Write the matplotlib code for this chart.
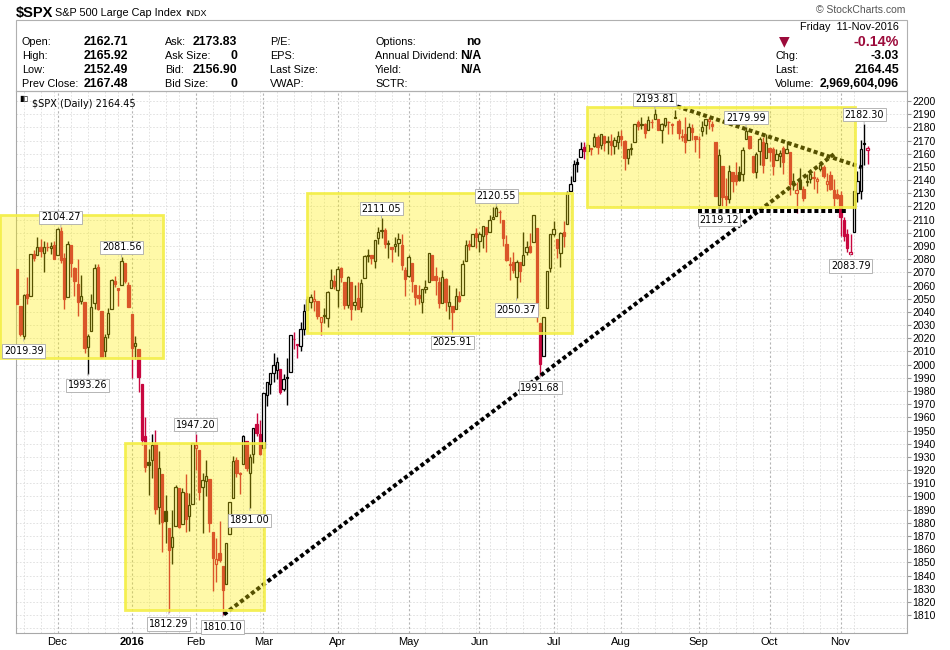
import numpy as np
import pandas as pd
import matplotlib
matplotlib.use("Agg")
from matplotlib import pyplot as plt
from matplotlib.patches import Rectangle

plt.rcParams['font.family'] = ['Liberation Sans', 'DejaVu Sans']

# $SPX daily candles (open, high, low, close), 12-Nov-2015 .. 11-Nov-2016
nov15 = [(2072.29, 2072.29, 2045.66, 2045.97), (2044.64, 2044.64, 2022.02, 2023.04),
         (2022.08, 2053.22, 2019.39, 2053.19), (2053.67, 2066.69, 2045.90, 2050.44),
         (2051.99, 2083.58, 2051.99, 2083.58), (2083.70, 2086.74, 2078.76, 2081.24),
         (2082.82, 2097.06, 2082.82, 2089.17), (2089.41, 2095.61, 2081.39, 2086.59),
         (2084.42, 2094.12, 2070.29, 2089.14), (2089.30, 2093.00, 2086.30, 2088.87),
         (2088.82, 2093.29, 2084.13, 2090.11), (2090.95, 2093.81, 2080.41, 2080.41)]
dec15 = [(2082.93, 2103.37, 2082.93, 2102.63), (2101.71, 2104.27, 2077.11, 2079.51),
         (2080.71, 2085.00, 2042.35, 2049.62), (2051.24, 2093.84, 2051.24, 2091.69),
         (2090.42, 2090.42, 2066.78, 2077.07), (2073.39, 2073.85, 2052.32, 2063.59),
         (2061.17, 2080.33, 2036.53, 2047.62), (2047.93, 2067.65, 2045.67, 2052.23),
         (2047.27, 2047.27, 2008.80, 2012.37), (2013.37, 2022.92, 1993.26, 2021.94),
         (2025.55, 2053.87, 2025.55, 2043.41), (2046.50, 2076.72, 2042.43, 2073.07),
         (2073.76, 2076.37, 2041.66, 2041.89), (2040.81, 2040.81, 2005.33, 2005.55),
         (2010.27, 2022.90, 2005.93, 2021.15), (2023.15, 2042.74, 2020.49, 2038.97),
         (2042.20, 2064.73, 2042.20, 2064.29), (2063.52, 2067.36, 2058.73, 2060.99),
         (2057.77, 2057.77, 2044.20, 2056.50), (2060.54, 2081.56, 2060.54, 2078.36),
         (2077.34, 2077.34, 2061.97, 2063.36), (2060.59, 2062.54, 2043.62, 2043.94)]
jan16 = [(2038.20, 2038.20, 1989.68, 2012.66), (2013.78, 2021.94, 2004.17, 2016.71),
         (2011.71, 2011.71, 1979.05, 1990.26), (1985.32, 1985.32, 1938.83, 1943.09),
         (1945.97, 1960.40, 1918.46, 1922.03), (1926.12, 1935.65, 1901.10, 1923.67),
         (1927.83, 1947.38, 1914.35, 1938.68), (1940.34, 1950.33, 1886.41, 1890.28),
         (1891.68, 1934.47, 1878.93, 1921.84), (1916.68, 1916.68, 1857.83, 1880.33),
         (1888.66, 1901.44, 1864.60, 1881.33), (1876.18, 1876.18, 1812.29, 1859.33),
         (1861.46, 1889.85, 1848.98, 1868.99), (1877.40, 1908.85, 1877.40, 1906.90),
         (1906.28, 1906.28, 1875.97, 1877.08), (1878.79, 1906.73, 1878.79, 1903.63),
         (1902.52, 1916.99, 1872.70, 1882.95), (1885.22, 1902.96, 1873.65, 1893.36),
         (1894.00, 1940.24, 1894.00, 1940.24)]
feb16 = [(1936.94, 1947.20, 1920.03, 1939.38), (1935.26, 1935.26, 1897.29, 1903.03),
         (1907.07, 1918.01, 1872.23, 1912.53), (1911.67, 1927.35, 1900.52, 1915.45),
         (1913.07, 1913.07, 1872.65, 1880.05), (1873.25, 1873.25, 1828.46, 1853.44),
         (1848.46, 1868.25, 1834.94, 1852.21), (1857.10, 1881.60, 1850.32, 1851.86),
         (1847.00, 1847.00, 1810.10, 1829.08), (1833.40, 1864.78, 1833.40, 1864.78),
         (1871.44, 1895.77, 1871.44, 1895.58), (1898.80, 1930.68, 1898.80, 1926.82),
         (1927.57, 1930.00, 1915.09, 1917.83), (1916.74, 1918.78, 1902.17, 1917.78),
         (1924.44, 1946.70, 1924.44, 1945.50), (1942.38, 1942.38, 1919.44, 1921.27),
         (1917.56, 1932.08, 1891.00, 1929.80), (1931.87, 1951.83, 1925.41, 1951.70),
         (1954.95, 1962.96, 1945.78, 1948.05), (1947.13, 1958.27, 1931.81, 1932.23)]
mar16 = [(1937.09, 1978.35, 1937.09, 1978.35), (1976.60, 1986.51, 1968.80, 1986.45),
         (1985.60, 1993.69, 1977.37, 1993.40), (1994.01, 2009.13, 1986.77, 1999.99),
         (1996.11, 2006.12, 1989.38, 2001.76), (1996.88, 1996.88, 1977.43, 1979.26),
         (1981.44, 1992.69, 1979.84, 1989.26), (1990.97, 2005.08, 1969.25, 1989.57),
         (1994.71, 2022.37, 1994.71, 2022.19), (2019.27, 2024.57, 2012.05, 2019.64),
         (2015.27, 2015.94, 2005.23, 2015.93), (2014.24, 2032.02, 2010.04, 2027.22),
         (2026.90, 2046.24, 2022.16, 2040.59), (2041.16, 2052.36, 2041.16, 2049.58),
         (2047.88, 2053.91, 2043.14, 2051.60), (2048.64, 2056.60, 2040.57, 2049.80),
         (2048.55, 2048.55, 2034.86, 2036.71), (2032.48, 2036.04, 2022.49, 2035.94),
         (2037.89, 2042.67, 2031.96, 2037.05), (2035.75, 2055.91, 2028.31, 2055.01),
         (2058.27, 2072.21, 2058.27, 2063.95), (2063.77, 2067.92, 2057.46, 2059.74)]
apr16 = [(2056.62, 2075.07, 2043.98, 2072.78), (2073.19, 2074.02, 2062.57, 2066.13),
         (2062.50, 2062.50, 2042.56, 2045.17), (2045.56, 2067.33, 2043.09, 2066.66),
         (2063.01, 2063.01, 2033.80, 2041.91), (2045.54, 2060.63, 2041.69, 2047.60),
         (2050.23, 2062.93, 2041.88, 2041.99), (2043.72, 2065.05, 2039.74, 2061.72),
         (2065.92, 2083.18, 2065.92, 2082.42), (2082.89, 2087.84, 2078.13, 2082.78),
         (2083.10, 2083.22, 2076.31, 2080.73), (2078.83, 2094.66, 2073.65, 2094.34),
         (2096.05, 2104.05, 2091.68, 2100.80), (2101.52, 2111.05, 2096.32, 2102.40),
         (2102.09, 2103.78, 2088.52, 2091.48), (2091.49, 2094.32, 2081.20, 2091.58),
         (2089.37, 2089.37, 2077.52, 2087.79), (2089.84, 2096.87, 2085.80, 2091.70),
         (2092.57, 2099.89, 2082.31, 2095.15), (2090.93, 2099.30, 2071.62, 2075.81),
         (2071.82, 2073.85, 2052.28, 2065.30)]
may16 = [(2067.17, 2083.42, 2066.11, 2081.43), (2077.18, 2077.18, 2054.89, 2063.37),
         (2060.30, 2060.30, 2045.55, 2051.12), (2052.95, 2060.23, 2045.77, 2050.63),
         (2047.77, 2057.72, 2039.45, 2057.14), (2057.55, 2064.15, 2054.31, 2058.69),
         (2062.63, 2084.87, 2062.63, 2084.39), (2083.29, 2083.29, 2064.46, 2064.46),
         (2067.17, 2073.99, 2053.13, 2064.11), (2062.50, 2066.79, 2043.13, 2046.61),
         (2046.53, 2071.88, 2046.53, 2066.66), (2065.04, 2065.69, 2040.82, 2047.21),
         (2044.38, 2060.61, 2034.49, 2047.63), (2044.21, 2044.21, 2025.91, 2040.04),
         (2041.88, 2058.35, 2041.88, 2052.32), (2052.23, 2055.58, 2047.26, 2048.04),
         (2052.65, 2079.67, 2052.65, 2076.06), (2078.93, 2094.73, 2078.93, 2090.54),
         (2091.44, 2094.30, 2087.08, 2090.10), (2090.06, 2099.06, 2090.06, 2099.06),
         (2100.13, 2103.48, 2088.66, 2096.95)]
jun16 = [(2093.94, 2100.97, 2085.10, 2099.33), (2097.71, 2105.26, 2088.59, 2105.26),
         (2104.07, 2104.07, 2085.36, 2099.13), (2100.83, 2113.36, 2100.83, 2109.41),
         (2110.18, 2119.22, 2110.18, 2112.13), (2112.71, 2120.55, 2112.71, 2119.12),
         (2115.65, 2117.64, 2107.73, 2115.48), (2109.57, 2109.57, 2089.96, 2096.07),
         (2091.75, 2098.12, 2078.46, 2079.06), (2076.65, 2081.30, 2064.10, 2075.32),
         (2077.60, 2085.65, 2069.80, 2071.50), (2066.36, 2079.62, 2050.37, 2077.99),
         (2078.20, 2078.20, 2062.84, 2071.22), (2075.58, 2100.66, 2075.58, 2083.25),
         (2085.19, 2093.66, 2083.02, 2088.90), (2089.75, 2099.71, 2084.36, 2085.45),
         (2092.80, 2113.32, 2092.80, 2113.32), (2103.81, 2103.81, 2032.57, 2037.41),
         (2031.45, 2031.45, 1991.68, 2000.54), (2006.67, 2036.09, 2006.67, 2036.09),
         (2042.69, 2070.77, 2042.69, 2070.77), (2073.17, 2098.94, 2070.00, 2098.86)]
jul16 = [(2099.34, 2108.71, 2097.90, 2102.95), (2095.05, 2095.05, 2080.86, 2088.55),
         (2084.43, 2100.72, 2074.02, 2099.73), (2100.42, 2109.08, 2089.39, 2097.90),
         (2106.97, 2131.71, 2106.97, 2129.90), (2131.72, 2143.16, 2131.72, 2137.16),
         (2139.50, 2155.40, 2139.50, 2152.14), (2153.81, 2156.45, 2146.21, 2152.43),
         (2157.88, 2168.99, 2157.88, 2163.75), (2165.13, 2169.05, 2155.79, 2161.74),
         (2162.04, 2168.35, 2159.07, 2166.89), (2163.79, 2164.63, 2159.01, 2163.78),
         (2166.10, 2175.63, 2164.89, 2173.02), (2172.91, 2174.56, 2159.75, 2165.17),
         (2166.47, 2175.11, 2163.24, 2175.03), (2173.71, 2173.71, 2161.95, 2168.48),
         (2168.97, 2173.54, 2160.18, 2169.18), (2169.81, 2174.98, 2159.07, 2166.58),
         (2166.05, 2172.85, 2159.74, 2170.06), (2168.83, 2177.09, 2163.49, 2173.60)]
aug16 = [(2173.15, 2178.29, 2166.21, 2170.84), (2169.94, 2170.20, 2147.58, 2157.03),
         (2156.81, 2163.79, 2152.14, 2163.79), (2163.51, 2168.19, 2159.07, 2164.25),
         (2168.79, 2182.87, 2168.79, 2182.87), (2183.76, 2185.44, 2177.85, 2180.89),
         (2182.24, 2187.66, 2178.61, 2181.74), (2182.81, 2183.41, 2172.00, 2175.49),
         (2177.97, 2188.45, 2177.97, 2185.79), (2183.74, 2186.28, 2179.42, 2184.05),
         (2186.08, 2193.81, 2186.08, 2190.15), (2186.24, 2186.24, 2178.14, 2178.15),
         (2177.84, 2183.08, 2168.50, 2182.22), (2181.90, 2187.03, 2180.46, 2187.02),
         (2184.24, 2185.00, 2175.13, 2183.87), (2181.58, 2183.47, 2175.22, 2182.64),
         (2187.81, 2193.42, 2186.80, 2186.90), (2185.09, 2186.66, 2171.25, 2175.44),
         (2173.29, 2179.00, 2169.74, 2172.47), (2175.10, 2187.94, 2160.39, 2169.04),
         (2170.19, 2183.48, 2170.19, 2180.38), (2179.45, 2182.27, 2170.41, 2176.12),
         (2173.56, 2173.79, 2161.35, 2170.95)]
sep16 = [(2171.33, 2173.56, 2157.09, 2170.86), (2177.49, 2184.87, 2173.59, 2179.98),
         (2181.61, 2186.57, 2175.10, 2186.48), (2185.17, 2187.87, 2179.07, 2186.16),
         (2182.76, 2184.94, 2177.49, 2181.30), (2169.08, 2169.08, 2127.81, 2127.81),
         (2120.86, 2163.30, 2119.12, 2159.04), (2150.47, 2150.47, 2120.27, 2127.02),
         (2127.86, 2141.33, 2119.90, 2125.77), (2125.36, 2151.31, 2122.36, 2147.26),
         (2146.48, 2146.48, 2131.20, 2139.16), (2143.99, 2153.61, 2135.91, 2139.12),
         (2145.94, 2150.80, 2139.17, 2139.76), (2144.58, 2165.11, 2139.57, 2163.12),
         (2170.94, 2179.99, 2170.94, 2177.18), (2173.29, 2173.75, 2163.97, 2164.69),
         (2158.54, 2158.54, 2145.04, 2146.10), (2146.04, 2161.13, 2141.55, 2159.93),
         (2161.85, 2172.40, 2151.79, 2171.37), (2168.90, 2172.67, 2145.20, 2151.13),
         (2156.51, 2175.30, 2156.51, 2168.27)]
oct16 = [(2164.33, 2164.41, 2154.77, 2161.20), (2163.37, 2165.46, 2144.01, 2150.49),
         (2155.15, 2163.95, 2155.15, 2159.73), (2158.22, 2162.93, 2150.28, 2160.77),
         (2164.19, 2165.86, 2144.85, 2153.74), (2160.39, 2169.60, 2160.39, 2163.66),
         (2161.35, 2161.56, 2128.84, 2136.73), (2137.67, 2145.36, 2132.77, 2139.18),
         (2130.26, 2138.19, 2114.72, 2132.55), (2139.68, 2149.19, 2132.98, 2132.98),
         (2132.95, 2135.61, 2124.43, 2126.50), (2138.31, 2144.38, 2135.49, 2139.60),
         (2140.81, 2148.44, 2138.15, 2144.29), (2142.51, 2147.18, 2133.44, 2141.34),
         (2139.43, 2142.63, 2130.09, 2141.16), (2148.50, 2154.79, 2146.91, 2151.33),
         (2149.72, 2151.44, 2141.93, 2143.16), (2136.97, 2145.73, 2131.59, 2139.43),
         (2144.06, 2147.13, 2132.52, 2133.04), (2132.23, 2140.72, 2119.36, 2126.41),
         (2129.78, 2133.25, 2125.53, 2126.15)]
nov16 = [(2128.68, 2131.45, 2097.85, 2111.72), (2109.43, 2111.76, 2094.00, 2097.94),
         (2098.80, 2102.56, 2085.23, 2088.66), (2083.79, 2099.07, 2083.79, 2085.18),
         (2100.59, 2132.00, 2100.59, 2131.52), (2129.92, 2146.87, 2123.56, 2139.56),
         (2131.56, 2170.10, 2125.35, 2163.26), (2167.49, 2182.30, 2151.17, 2167.48),
         (2162.71, 2165.92, 2152.49, 2164.45)]

prev_close = 2075.00  # close of 11-Nov-2015
holidays = ['2015-11-26', '2015-12-25', '2016-01-01', '2016-01-18', '2016-02-15',
            '2016-03-25', '2016-05-30', '2016-07-04', '2016-09-05']

month_labels = ['Dec', '2016', 'Feb', 'Mar', 'Apr', 'May', 'Jun', 'Jul', 'Aug', 'Sep', 'Oct', 'Nov']

# annotated highs / lows
marked_highs = ['2015-12-02', '2015-12-29', '2016-02-01', '2016-04-20', '2016-06-08',
                '2016-08-15', '2016-09-22', '2016-11-10']
marked_lows = ['2015-11-16', '2015-12-14', '2016-01-20', '2016-02-11', '2016-02-24',
               '2016-05-19', '2016-06-16', '2016-06-27', '2016-09-12', '2016-11-04']

# yellow zones drawn on the chart: (first day idx, last day idx, low, high)
zones = [(-5.1, 43.3, 2005.0, 2113.5),
         (32.0, 73.3, 1813.8, 1940.3),
         (85.8, 164.4, 2023.8, 2130.0),
         (168.8, 248.3, 2119.3, 2195.7)]
# hand drawn trend lines: (x0, p0, x1, p1)
trendlines = [(61.3, 1810.5, 242.5, 2160.5),
              (189.8, 2200.8, 250.3, 2149.7),
              (201.8, 2116.5, 246.2, 2116.5)]


ohlc = np.array(nov15 + dec15 + jan16 + feb16 + mar16 + apr16 + may16 +
                jun16 + jul16 + aug16 + sep16 + oct16 + nov16)
o, h, l, c = ohlc.T
dates = pd.bdate_range('2015-11-12', '2016-11-11', freq='C', holidays=holidays)
n = len(dates)
x = np.arange(n)
prev = np.r_[prev_close, c[:-1]]

RED = '#c8073f'
col = np.where(c >= prev, 'black', RED)
face = np.where(c > o, 'white', col)

W, H = 950, 650
fig = plt.figure(figsize=(W / 100, H / 100), dpi=100)
ax = fig.add_axes([16 / W, 17 / H, 891 / W, 542 / H])


def ftext(px, py, s, **kw):
    fig.text(px / W, 1 - py / H, s, va='center', **kw)


# grid
month_start = [i for i in range(1, n) if dates[i].month != dates[i - 1].month]
week_start = [i for i in range(1, n) if dates[i].weekday() < dates[i - 1].weekday()]
for i in week_start:
    if i not in month_start:
        ax.axvline(i, color='#dddddd', lw=0.6, ls=(0, (2, 2)), zorder=0)
for i in month_start:
    ax.axvline(i, color='#b4b4b4', lw=0.8, ls=(0, (2, 2)), zorder=0)
for p in range(1800, 2210, 10):
    ax.axhline(p, color='#dddddd', lw=0.6, ls=(0, (2, 2)), zorder=0)

# candles
ax.vlines(x, l, h, colors=col, lw=1.0, zorder=2)
body = np.maximum(np.abs(c - o), 0.5)
ax.bar(x, body, bottom=np.minimum(o, c), width=0.72, color=face,
       edgecolor=col, linewidth=0.9, zorder=3)

# trend lines
for x0, p0, x1, p1 in trendlines:
    ax.plot([x0, x1], [p0, p1], color='black', lw=2.9, ls=(0, (1.0, 0.7)),
            dash_capstyle='butt', zorder=4, clip_on=False)

# zones
for x0, x1, p0, p1 in zones:
    ax.add_patch(Rectangle((x0, p0), x1 - x0, p1 - p0, facecolor='#fff000',
                           edgecolor='none', alpha=0.34, zorder=5, clip_on=False))
    ax.add_patch(Rectangle((x0, p0), x1 - x0, p1 - p0, fill=False,
                           edgecolor='#f3ee45', lw=2.0, alpha=0.9, zorder=5, clip_on=False))

# price labels
pos = {d: i for i, d in enumerate(dates.strftime('%Y-%m-%d'))}
lab_kw = dict(textcoords='offset points', ha='center', va='center', fontsize=6.9,
              family='DejaVu Sans', zorder=7,
              bbox=dict(boxstyle='square,pad=0.18', fc='white', ec='#aaaaaa', lw=0.6),
              arrowprops=dict(arrowstyle='-', color='#aaaaaa', lw=0.6))
for d in marked_highs:
    i = pos[d]
    ax.annotate(f'{h[i]:.2f}', xy=(i, h[i]), xytext=(0, 7), **lab_kw)
for d in marked_lows:
    i = pos[d]
    ax.annotate(f'{l[i]:.2f}', xy=(i, l[i]), xytext=(0, -8.6), **lab_kw)

ax.set_xlim(-0.3, 263.7)
ax.set_ylim(1796.4, 2207.6)
ax.set_xticks(month_start)
ax.set_xticklabels(month_labels, fontsize=8)
ax.get_xticklabels()[1].set_fontweight('bold')
ax.yaxis.tick_right()
ax.set_yticks(range(1810, 2201, 10))
ax.tick_params(axis='y', length=3, pad=1, labelsize=7.5, color='#999999')
ax.tick_params(axis='x', length=0, pad=3)
for s in ax.spines.values():
    s.set_color('#a8a8a8')
    s.set_linewidth(0.8)

ax.text(0.018, 0.985, '$SPX (Daily) 2164.45', transform=ax.transAxes, fontsize=7,
        family='DejaVu Sans', va='top', ha='left', zorder=8)
ftext(24, 98, '\u25ae\u25af', fontsize=6, family='DejaVu Sans', ha='center')

# header
fig.add_artist(Rectangle((16 / W, 1 - 91 / H), 891 / W, 71 / H, transform=fig.transFigure,
                         fill=False, edgecolor='#b0b0b0', lw=0.8))
ftext(16, 13, '$SPX', fontsize=10.5, fontweight='bold')
ftext(55, 13, 'S&P 500 Large Cap Index', fontsize=7.8)
ftext(185, 13.5, 'INDX', fontsize=6.5)
ftext(905, 10, '\u00a9 StockCharts.com', fontsize=7.5, color='#555555', ha='right')

rows_y = [42, 56, 70, 84]
left_lab = ['Open:', 'High:', 'Low:', 'Prev Close:']
left_val = ['2162.71', '2165.92', '2152.49', '2167.48']
mid_lab = ['Ask:', 'Ask Size:', 'Bid:', 'Bid Size:']
mid_val = ['2173.83', '0', '2156.90', '0']
pe_lab = ['P/E:', 'EPS:', 'Last Size:', 'VWAP:']
opt_lab = ['Options:', 'Annual Dividend:', 'Yield:', 'SCTR:']
opt_val = ['no', 'N/A', 'N/A', '']
for k, yy in enumerate(rows_y):
    ftext(22, yy, left_lab[k], fontsize=7.8)
    ftext(128, yy, left_val[k], fontsize=8.8, fontweight='bold', ha='right')
    ftext(165, yy, mid_lab[k], fontsize=7.8)
    ftext(237, yy, mid_val[k], fontsize=8.8, fontweight='bold', ha='right')
    ftext(270, yy, pe_lab[k], fontsize=7.8)
    ftext(375, yy, opt_lab[k], fontsize=7.8)
    ftext(481, yy, opt_val[k], fontsize=8.8, fontweight='bold', ha='right')

ftext(899, 27, 'Friday  11-Nov-2016', fontsize=7.8, ha='right')
ftext(784, 41, '\u25bc', fontsize=10, color='#9c0b3b', ha='center', family='DejaVu Sans')
ftext(899, 42, '-0.14%', fontsize=10.3, fontweight='bold', color='#9c0b3b', ha='right')
ftext(775, 56, 'Chg:', fontsize=7.8)
ftext(899, 56, '-3.03', fontsize=8.8, fontweight='bold', ha='right')
ftext(775, 70, 'Last:', fontsize=7.8)
ftext(899, 70, '2164.45', fontsize=8.8, fontweight='bold', ha='right')
ftext(775, 84, 'Volume:', fontsize=7.8)
ftext(899, 84, '2,969,604,096', fontsize=8.8, fontweight='bold', ha='right')

fig.savefig('out.png', dpi=100, facecolor='white')
